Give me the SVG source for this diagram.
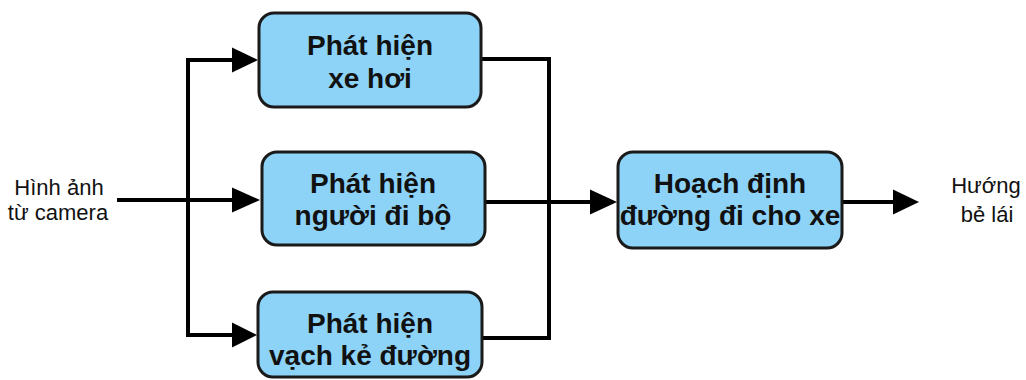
<svg xmlns="http://www.w3.org/2000/svg" width="1026" height="380" viewBox="0 0 1026 380">
<style>
.box{fill:#8dd3f8;stroke:#1a1a1a;stroke-width:3}
.bt{font-family:"Liberation Sans",Arial,sans-serif;font-weight:bold;font-size:28px;fill:#111;text-anchor:middle}
.lt{font-family:"Liberation Sans",Arial,sans-serif;font-size:22px;fill:#111;text-anchor:middle}
.ln{fill:none;stroke:#000;stroke-width:4;stroke-linejoin:miter}
.ah{fill:#000}
</style>
<rect width="1026" height="380" fill="#fff"/>
<g id="connectors">
<path class="ln" d="M117,200 H236"/>
<path class="ln" d="M236,60 H188 V335 H236"/>
<polygon class="ah" points="232,47.5 258,60 232,72.5"/>
<polygon class="ah" points="232,187.5 260,200 232,212.5"/>
<polygon class="ah" points="232,322.5 257,335 232,347.5"/>
<path class="ln" d="M481,59 H549 V338 H482"/>
<path class="ln" d="M485,202 H594"/>
<polygon class="ah" points="590,189.5 617,202 590,214.5"/>
<path class="ln" d="M842,202 H897"/>
<polygon class="ah" points="893,189.5 919,202 893,214.5"/>
</g>
<g id="input">
<text class="lt" x="59" y="195">Hình ảnh</text>
<text class="lt" x="58" y="220">từ camera</text>
</g>
<g id="node-car">
<rect class="box" x="259" y="13" width="222" height="94" rx="15"/>
<text class="bt" x="370" y="55">Phát hiện</text>
<text class="bt" x="370" y="88">xe hơi</text>
</g>
<g id="node-pedestrian">
<rect class="box" x="262" y="152" width="223" height="93" rx="15"/>
<text class="bt" x="373" y="193">Phát hiện</text>
<text class="bt" x="373" y="225">người đi bộ</text>
</g>
<g id="node-lane">
<rect class="box" x="258" y="292" width="224" height="85" rx="15"/>
<text class="bt" x="370" y="333">Phát hiện</text>
<text class="bt" x="370" y="365">vạch kẻ đường</text>
</g>
<g id="node-plan">
<rect class="box" x="618" y="152" width="224" height="96" rx="15"/>
<text class="bt" x="730" y="193">Hoạch định</text>
<text class="bt" x="730" y="225">đường đi cho xe</text>
</g>
<g id="output">
<text class="lt" x="986" y="193">Hướng</text>
<text class="lt" x="987" y="222">bẻ lái</text>
</g>
</svg>
